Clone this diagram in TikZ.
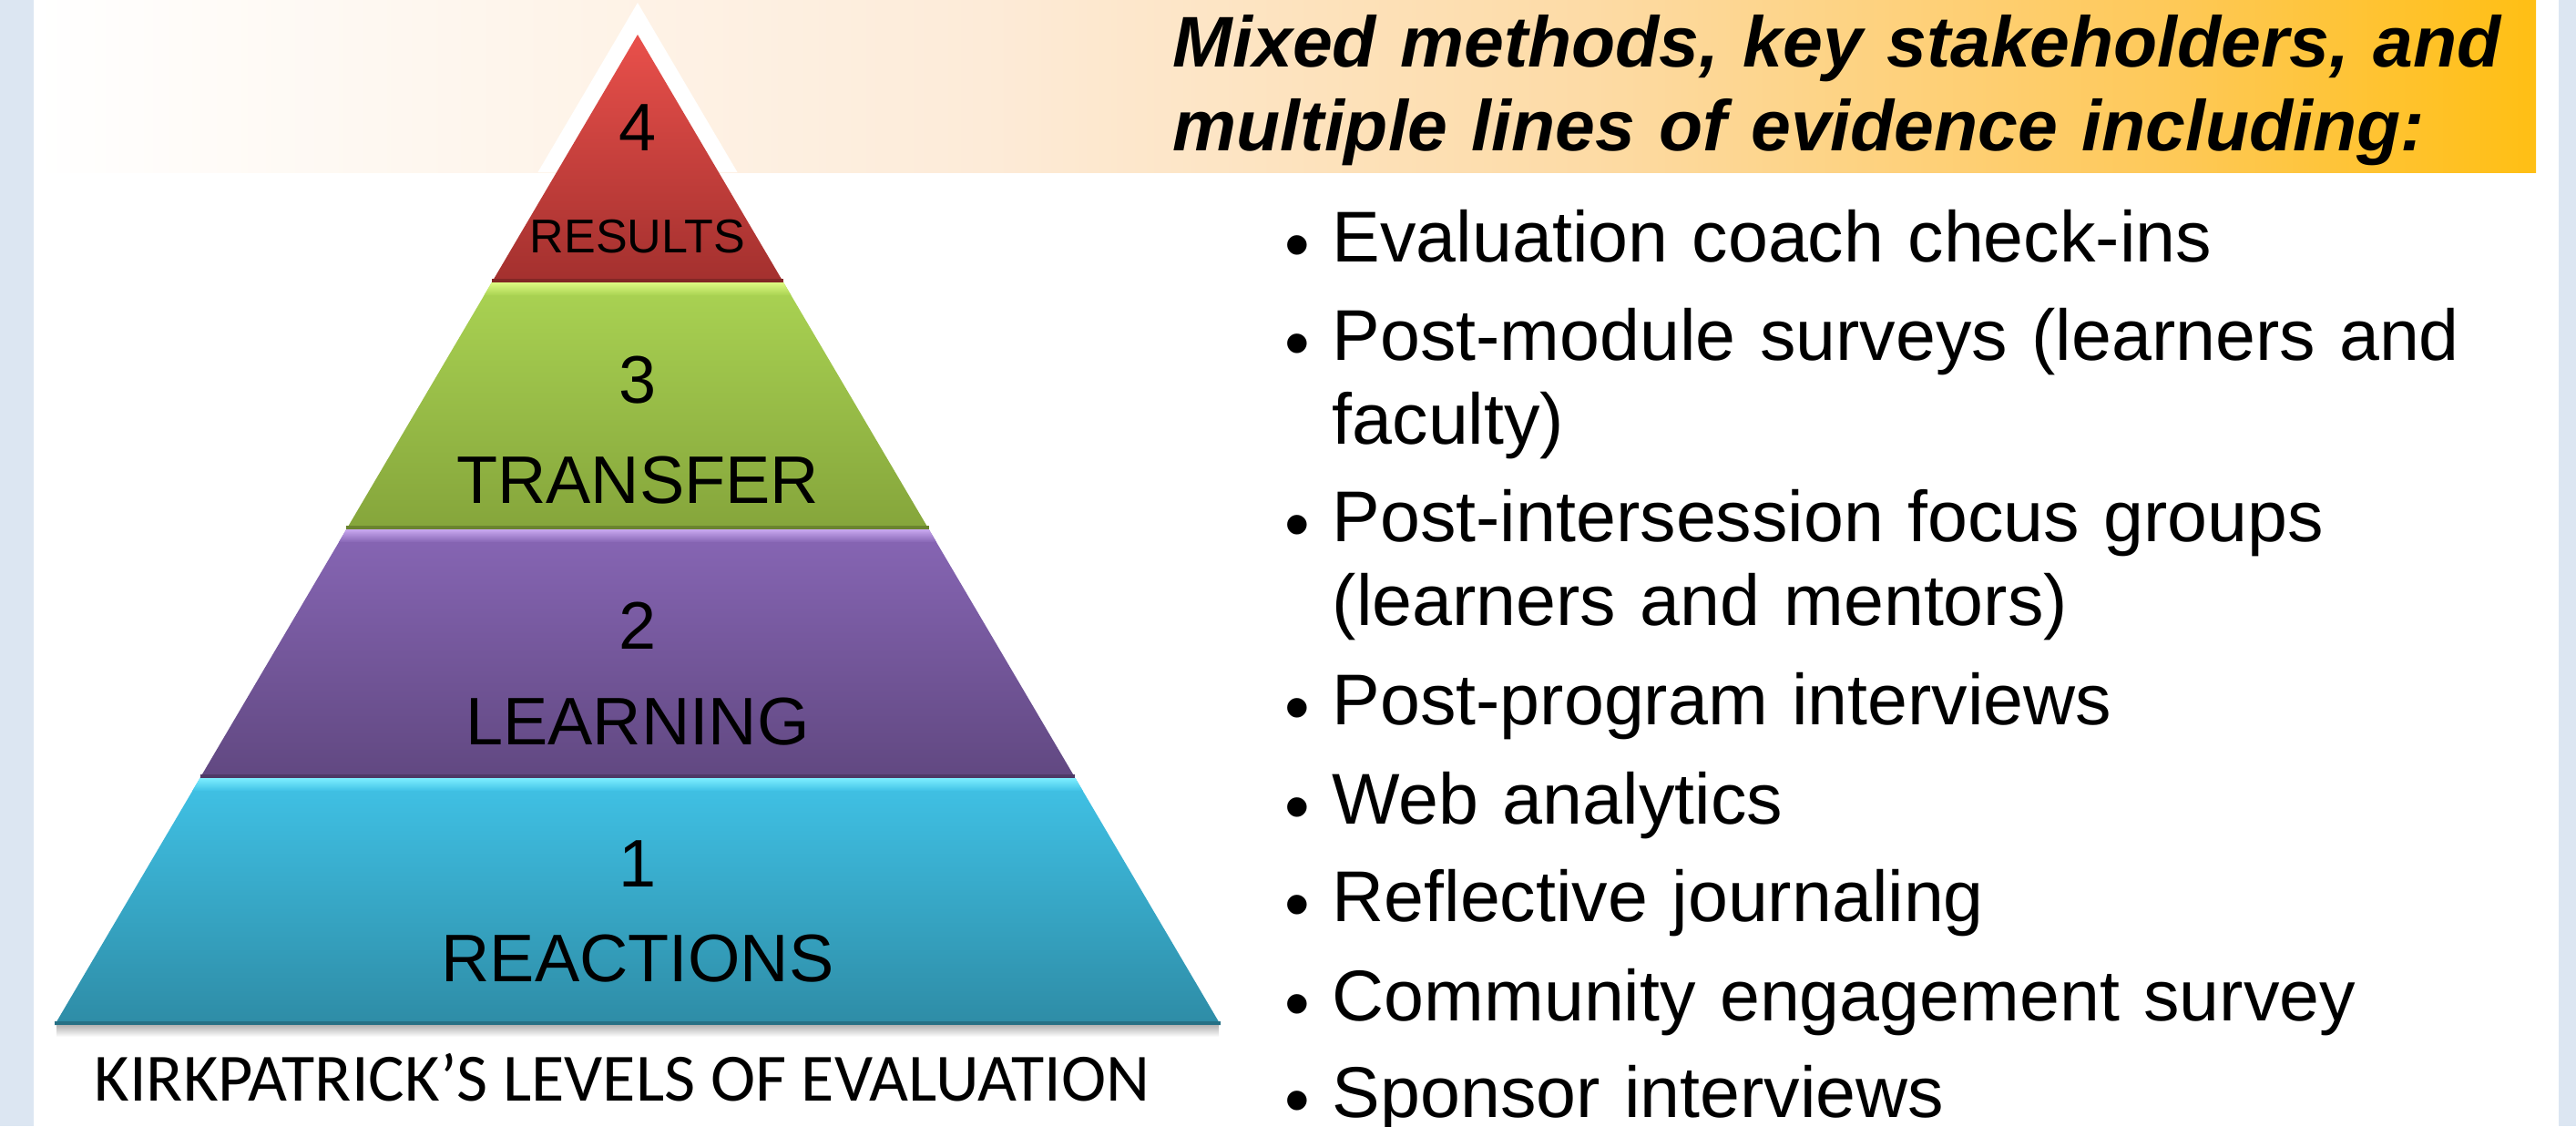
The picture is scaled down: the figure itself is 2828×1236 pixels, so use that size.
\documentclass[tikz,border=0pt]{standalone}
\usepackage{fontspec}
\setmainfont{Liberation Sans}
\newfontfamily\capfont{Carlito}

\definecolor{frameblue}{HTML}{DCE6F2}
\definecolor{bannerpeach}{HTML}{FDEBD8}
\definecolor{bannerlight}{HTML}{FDDBA6}
\definecolor{bannermid}{HTML}{FEC95A}
\definecolor{bannergold}{HTML}{FFBF14}
\definecolor{lvlred}{HTML}{E9504B}
\definecolor{lvlreddark}{HTML}{A3302E}
\definecolor{lvlgreen}{HTML}{AAD353}
\definecolor{lvlgreendark}{HTML}{85A53B}
\definecolor{lvlgreenhi}{HTML}{DDFA82}
\definecolor{lvlpurple}{HTML}{8766B5}
\definecolor{lvlpurpledark}{HTML}{614881}
\definecolor{lvlpurplehi}{HTML}{C9A8F0}
\definecolor{lvlblue}{HTML}{40C2E6}
\definecolor{lvlbluedark}{HTML}{2E8CA6}
\definecolor{lvlbluehi}{HTML}{7CEEFF}

% banner fade, white on the left to gold on the right
\pgfdeclarehorizontalshading{bannerfade}{100bp}{color(0bp)=(white); color(25bp)=(white);
  color(44bp)=(bannerpeach); color(56bp)=(bannerlight); color(67.5bp)=(bannermid);
  color(75bp)=(bannergold); color(100bp)=(bannergold)}

\begin{document}
\begin{tikzpicture}[x=0.01cm, y=-0.01cm,
    heading/.style = {anchor=base west, align=left, text width=15.5cm, inner sep=0pt,
      font=\fontsize{22.4}{26.2}\selectfont\bfseries\itshape},
    item/.style = {anchor=base west, align=left, text width=13.5cm, inner sep=0pt,
      font=\fontsize{22.45}{26.2}\selectfont},
    lvlnum/.style = {anchor=base, inner sep=0pt, font=\fontsize{21}{25}\selectfont},
    lvlname/.style = {lvlnum}]
\useasboundingbox (0,0) rectangle (2828,1236);

% frame strips and title banner
\fill[frameblue] (0,0) rectangle (37,1236);
\fill[frameblue] (2809,0) rectangle (2828,1236);
\shade[shading=bannerfade] (37,0) rectangle (2784,189);

% white halo round the top of the pyramid
\fill[white] (700,3) -- (590.5,189) -- (809.5,189) -- cycle;

% the four levels
\foreach \t/\b/\ca/\cb in {38/310/lvlred/lvlreddark, 310/581/lvlgreen/lvlgreendark,
    581/854/lvlpurple/lvlpurpledark, 854/1125/lvlblue/lvlbluedark}
{
  \shade[top color=\ca, bottom color=\cb]
    ({700-(\t-38)*0.5888},\t) -- ({700+(\t-38)*0.5888},\t)
    -- ({700+(\b-38)*0.5888},\b) -- ({700-(\b-38)*0.5888},\b) -- cycle;
  \draw[\cb!80!black, line width=1pt]
    ({700-(\b-38)*0.5888},\b-2) -- ({700+(\b-38)*0.5888},\b-2);
}
\foreach \t/\ch/\ca in {310/lvlgreenhi/lvlgreen, 581/lvlpurplehi/lvlpurple, 854/lvlbluehi/lvlblue}
  \shade[top color=\ch, bottom color=\ca]
    ({700-(\t-38)*0.5888},\t) -- ({700+(\t-38)*0.5888},\t)
    -- ({700+(\t-24)*0.5888},\t+14) -- ({700-(\t-24)*0.5888},\t+14) -- cycle;

% soft shadow under the base
\shade[top color=black!30, bottom color=white] (62,1125) rectangle (1338,1138);

\node[lvlnum] (num4) at (700,165) {4};
\node[lvlname, font=\fontsize{14.8}{18}\selectfont] (name4) at (700,277) {RESULTS};
\node[lvlnum] (num3) at (700,442) {3};
\node[lvlname] (name3) at (700,552) {TRANSFER};
\node[lvlnum] (num2) at (700,712) {2};
\node[lvlname] (name2) at (700,817) {LEARNING};
\node[lvlnum] (num1) at (700,973) {1};
\node[lvlname] (name1) at (700,1077) {REACTIONS};

\node[anchor=base, inner sep=0pt, font=\capfont\fontsize{21.1}{24}\selectfont]
  (caption) at (683,1208) {KIRKPATRICK’S LEVELS OF EVALUATION};

% right-hand list
\node[heading] (heading) at (1287,73)
  {Mixed methods, key stakeholders, and\\multiple lines of evidence including:};

\foreach \y/\txt [count=\i] in {287/{Evaluation coach check-ins},
    395/{Post-module surveys (learners and\\faculty)},
    594/{Post-intersession focus groups\\(learners and mentors)},
    795/{Post-program interviews}, 904/{Web analytics},
    1011/{Reflective journaling}, 1120/{Community engagement survey},
    1226/{Sponsor interviews}}
  \node[item] (item\i) at (1462,\y) {\llap{\raisebox{-2.5pt}{\textbullet}\hspace{7pt}}\txt};
\end{tikzpicture}
\end{document}
